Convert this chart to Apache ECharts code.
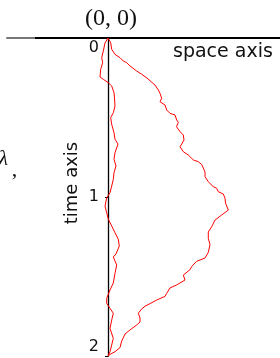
<!DOCTYPE html>
<html>
<head>
<meta charset="utf-8">
<script src="https://cdn.jsdelivr.net/npm/echarts@6/dist/echarts.min.js"></script>
<style>
html, body { margin: 0; padding: 0; background: #fff; }
#container { width: 280px; height: 358px; }
</style>
</head>
<body>
<div id="container"></div>
<script>
// time axis ticks
var timeTicks = [0, 1, 2];

// wide path: space values and time values
var wideSpace = [0, 0.027, 0.037, 0.07, 0.12, 0.153, 0.187, 0.22, 0.287, 0.337, 0.39, 0.47, 0.503, 0.52, 0.537, 0.52, 0.57, 0.587, 0.62, 0.67, 0.687, 0.703, 0.685, 0.72, 0.753, 0.76, 0.737, 0.72, 0.753, 0.803, 0.82, 0.853, 0.903, 0.937, 0.953, 0.97, 0.97, 1.003, 1.02, 1.053, 1.087, 1.103, 1.153, 1.17, 1.175, 1.203, 1.137, 1.12, 1.07, 1.053, 1.037, 1.003, 1.003, 1.02, 1.003, 0.97, 0.887, 0.837, 0.82, 0.753, 0.77, 0.687, 0.62, 0.587, 0.57, 0.487, 0.44, 0.37, 0.337, 0.303, 0.32, 0.32, 0.287, 0.22, 0.203, 0.17, 0.137, 0.12, 0.07, 0.02, 0];
var wideTime = [0, 0.030, 0.071, 0.103, 0.124, 0.145, 0.155, 0.176, 0.208, 0.228, 0.252, 0.296, 0.327, 0.348, 0.379, 0.401, 0.421, 0.453, 0.474, 0.484, 0.516, 0.531, 0.558, 0.589, 0.610, 0.642, 0.667, 0.684, 0.715, 0.736, 0.747, 0.767, 0.778, 0.796, 0.818, 0.843, 0.872, 0.904, 0.914, 0.935, 0.945, 0.967, 0.981, 1.008, 1.038, 1.082, 1.113, 1.124, 1.145, 1.155, 1.187, 1.220, 1.260, 1.300, 1.348, 1.384, 1.404, 1.437, 1.457, 1.491, 1.522, 1.553, 1.572, 1.606, 1.625, 1.648, 1.664, 1.687, 1.704, 1.731, 1.761, 1.786, 1.805, 1.836, 1.847, 1.862, 1.906, 1.947, 1.973, 1.990, 2];

// narrow path: space values and time values
var narrowSpace = [0, -0.03, -0.047, -0.063, -0.053, -0.073, -0.08, -0.047, 0.003, 0.037, 0.06, 0.065, 0.07, 0.053, 0.027, 0.037, 0.06, 0.07, 0.10, 0.07, 0.06, 0.08, 0.06, 0.053, 0.037, 0.02, -0.013, -0.03, -0.013, 0.003, 0.037, 0.07, 0.103, 0.113, 0.08, 0.053, 0.087, 0.07, 0.053, 0.02, -0.013, -0.013, 0.02, 0.053, 0.037, 0.02, 0.053, 0.037, 0.02, 0];
var narrowTime = [0, 0.031, 0.082, 0.124, 0.155, 0.197, 0.245, 0.260, 0.281, 0.302, 0.344, 0.377, 0.428, 0.470, 0.501, 0.543, 0.596, 0.637, 0.667, 0.721, 0.763, 0.805, 0.847, 0.889, 0.931, 0.973, 1.006, 1.057, 1.099, 1.140, 1.182, 1.225, 1.266, 1.308, 1.358, 1.377, 1.428, 1.480, 1.541, 1.585, 1.637, 1.669, 1.700, 1.731, 1.774, 1.826, 1.889, 1.931, 1.973, 2];

function pairs(xs, ys) {
    var out = [];
    for (var i = 0; i < xs.length; i++) {
        out.push([xs[i], ys[i]]);
    }
    return out;
}

var dom = document.getElementById("container");
var myChart = echarts.init(dom, null, {renderer: 'canvas'});
var option = {
    animation: false,
    backgroundColor: '#fff',
    grid: {left: 7, right: 0, top: 38, bottom: 2, containLabel: false, outerBoundsMode: 'none'},
    xAxis: {
        type: 'value',
        min: -1.01,
        max: 1.72,
        position: 'top',
        axisLine: {
            show: true,
            onZero: false,
            lineStyle: {
                width: 2,
                color: {
                    type: 'linear', x: 0, y: 0, x2: 1, y2: 0,
                    colorStops: [
                        {offset: 0, color: '#777'},
                        {offset: 0.11, color: '#777'},
                        {offset: 0.111, color: '#000'},
                        {offset: 1, color: '#000'}
                    ]
                }
            }
        },
        axisTick: {show: false},
        axisLabel: {show: false},
        splitLine: {show: false}
    },
    yAxis: {
        type: 'value',
        inverse: true,
        min: 0,
        max: 2,
        interval: 1,
        position: 'left',
        // x axis spans -1.01..1.72 over 273px, so zero sits 101px right of the grid edge
        offset: -101,
        axisLine: {show: true, onZero: false, lineStyle: {color: '#000', width: 1.3}},
        axisTick: {show: true, length: 3, lineStyle: {color: '#000'}},
        axisLabel: {
            show: true,
            margin: 9,
            fontSize: 16,
            lineHeight: 19,
            fontFamily: 'DejaVu Sans',
            color: '#111',
            verticalAlignMinLabel: 'top',
            verticalAlignMaxLabel: 'bottom',
            formatter: function (v) {
                return timeTicks.indexOf(v) != -1 ? String(v) : '';
            }
        },
        splitLine: {show: false}
    },
    series: [{
        type: 'line',
        data: pairs(wideSpace, wideTime),
        showSymbol: false,
        lineStyle: {color: '#ff0000', width: 1},
        z: 3
    }, {
        type: 'line',
        data: pairs(narrowSpace, narrowTime),
        showSymbol: false,
        lineStyle: {color: '#ff0000', width: 1},
        z: 3
    }],
    graphic: [
        {type: 'text', x: 111, y: 19, style: {text: '(0, 0)', font: '24px "Liberation Serif"', fill: '#111', align: 'center', verticalAlign: 'middle'}},
        {type: 'text', x: 173, y: 52, style: {text: 'space axis', font: '19px "DejaVu Sans"', fill: '#111', align: 'left', verticalAlign: 'middle'}},
        {type: 'text', x: 72, y: 183, rotation: Math.PI / 2, style: {text: 'time axis', font: '18px "DejaVu Sans"', fill: '#111', align: 'center', verticalAlign: 'middle'}},
        {type: 'text', x: 8, y: 159, style: {text: 'λ', font: 'italic 22px "Liberation Serif"', fill: '#111', align: 'right', verticalAlign: 'middle'}},
        {type: 'text', x: 14.5, y: 170, style: {text: ',', font: '22px "Liberation Serif"', fill: '#111', align: 'center', verticalAlign: 'middle'}}
    ]
};
myChart.setOption(option, true);
</script>
</body>
</html>
